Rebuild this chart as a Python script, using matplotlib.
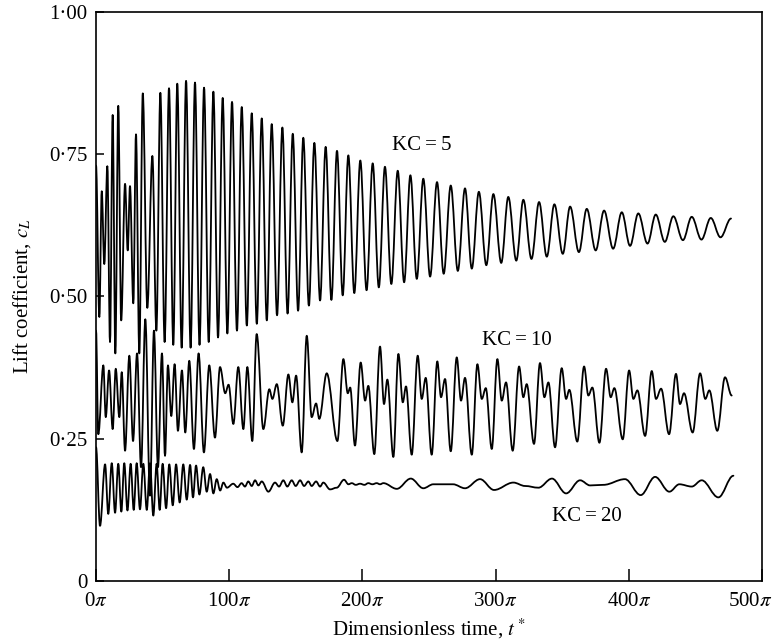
import matplotlib
matplotlib.use('Agg')
import matplotlib.pyplot as plt
from matplotlib.path import Path
from matplotlib.patches import PathPatch
from matplotlib.transforms import ScaledTranslation

plt.rcParams['font.family'] = ['Liberation Serif', 'DejaVu Serif']
plt.rcParams['mathtext.fontset'] = 'stix'

# extrema (peaks / troughs), time in units of pi
kc5_t = [0, 2.5, 4.3, 6.2, 8.5, 10.5, 12.5, 14.5, 16.7, 18.9, 21.8, 23.8, 25.5, 28.0, 30.0, 32.5,
         35.1, 38.5, 42.3, 45.3,
         48.3, 51.5, 54.8, 58.0, 61.0, 64.3, 67.6, 71.0, 74.3, 77.7, 81.1, 84.6, 88.1, 91.6, 95.1, 98.6,
         102.1, 105.8, 109.4, 113.2, 116.9, 120.7, 124.4, 128.2, 131.9, 135.9, 139.9, 143.8, 147.7, 151.7,
         155.6, 159.8, 163.9, 168.2, 172.4, 176.7, 180.9, 185.2, 189.4, 193.9, 198.4, 203.1, 207.7, 212.3,
         216.9, 221.7, 226.5, 231.3, 236.0, 240.8, 245.7, 250.8, 256.0, 261.0, 266.3, 271.6, 277.0, 282.1,
         287.4, 293.0, 298.3, 304.2, 309.5, 315.5, 320.8, 326.9, 332.6, 338.4, 344.1, 350.4, 355.9, 362.5,
         368.4, 375.1, 381.4, 388.2, 394.7, 400.9, 407.1, 414.0, 420.2, 427.0, 433.4, 440.6, 447.2, 454.5,
         461.5, 468.8, 476.7]
kc5_y = [0.73, 0.464, 0.685, 0.557, 0.729, 0.42, 0.819, 0.40, 0.835, 0.458, 0.698, 0.581, 0.694, 0.488,
         0.785, 0.40, 0.857, 0.48, 0.747, 0.44,
         0.858, 0.42, 0.866, 0.415, 0.874, 0.41, 0.879, 0.41, 0.876, 0.415, 0.867, 0.42, 0.860, 0.428,
         0.849, 0.435,
         0.842, 0.440, 0.833, 0.449, 0.822, 0.452, 0.813, 0.458, 0.803, 0.467, 0.797, 0.470, 0.786, 0.475,
         0.779, 0.484, 0.770, 0.493, 0.763, 0.494, 0.756, 0.502, 0.748, 0.506, 0.739, 0.511, 0.734, 0.516,
         0.728, 0.522, 0.721, 0.525, 0.713, 0.531, 0.707, 0.535, 0.701, 0.540, 0.695, 0.545, 0.690, 0.549,
         0.684, 0.555, 0.680, 0.559, 0.675, 0.563, 0.670, 0.566, 0.666, 0.570, 0.662, 0.575, 0.658, 0.578,
         0.654, 0.581, 0.651, 0.584, 0.648, 0.589, 0.646, 0.593, 0.644, 0.596, 0.641, 0.599, 0.640, 0.600,
         0.638, 0.604, 0.637]

kc10_t = [0, 1.7, 5.5, 7.3, 9.8, 12.5, 14.8, 17.5, 19.3, 21.8, 25.0, 27.8, 30.8, 33.8, 37.0, 40.5,
          43.5, 46.5, 49.5, 51.8, 54.0, 56.5, 59.0, 61.5, 64.5, 67.0, 70.0, 73.5, 77.0, 81.0, 85.0, 89.3,
          93.1, 97.0, 99.5, 103.1,
          106.8, 110.6, 113.6, 117.3, 120.6, 125.6, 130.1, 132.4, 135.7, 140.2, 144.4, 147.4, 150.2, 154.4,
          158.2, 161.9, 165.2, 167.6, 173.2, 181.2, 185.7, 189.0, 190.8, 194.4, 198.7, 202.0, 204.4, 208.9,
          213.2, 216.2, 218.7, 223.2, 227.0, 230.3, 232.7, 237.0, 241.5, 244.5, 247.5, 252.0, 256.2, 259.0,
          262.0, 266.3, 270.8, 274.0, 277.0, 282.1, 286.3, 289.6, 292.6, 297.1, 301.3, 304.6, 307.8, 312.8,
          317.6, 320.8, 323.3, 328.8, 333.3, 336.6, 339.6, 344.6, 349.6, 352.9, 355.3, 361.3, 366.4, 369.6,
          372.6, 377.9, 382.9, 386.4, 389.1, 395.4, 400.2, 403.4, 406.4, 412.2, 417.2, 420.4, 424.2, 430.2,
          435.4, 438.4, 441.4, 447.9, 453.5, 457.4, 460.4, 466.4, 472.2, 477.2]
kc10_y = [0.44, 0.258, 0.379, 0.288, 0.370, 0.267, 0.373, 0.288, 0.367, 0.229, 0.396, 0.246, 0.40, 0.20,
          0.46, 0.15, 0.44, 0.20, 0.40, 0.22, 0.379, 0.29, 0.381, 0.264, 0.37, 0.261, 0.387, 0.232, 0.40,
          0.226, 0.379, 0.252, 0.376, 0.33, 0.345, 0.276,
          0.376, 0.267, 0.376, 0.246, 0.434, 0.267, 0.337, 0.320, 0.346, 0.273, 0.363, 0.314, 0.361, 0.226,
          0.431, 0.288, 0.312, 0.285, 0.365, 0.246, 0.390, 0.330, 0.340, 0.238, 0.384, 0.317, 0.343, 0.223,
          0.412, 0.311, 0.354, 0.218, 0.399, 0.314, 0.342, 0.222, 0.396, 0.320, 0.357, 0.222, 0.386, 0.323,
          0.355, 0.228, 0.393, 0.317, 0.357, 0.222, 0.381, 0.320, 0.339, 0.232, 0.390, 0.317, 0.349, 0.229,
          0.377, 0.323, 0.346, 0.241, 0.383, 0.323, 0.349, 0.235, 0.374, 0.320, 0.336, 0.245, 0.377, 0.326,
          0.340, 0.243, 0.373, 0.323, 0.339, 0.249, 0.370, 0.320, 0.335, 0.255, 0.369, 0.320, 0.338, 0.258,
          0.364, 0.311, 0.330, 0.261, 0.365, 0.320, 0.335, 0.264, 0.358, 0.326]

kc20_t = [0, 3.0, 6.8, 9.2, 11.8, 14.3, 16.7, 19.0, 21.2, 23.6, 26.0, 28.3, 30.5, 33.0, 35.5, 38.1,
          40.5, 43.0, 45.5, 47.8, 50.0, 52.6, 55.0, 57.6, 60.1, 62.8, 65.5, 68.1, 70.6, 72.8, 75.1, 77.6,
          80.5, 83.1, 85.6, 88.1, 90.6, 93.2, 95.6, 98.3, 103.0, 106.2, 109.3, 111.8, 114.3, 116.9, 119.4,
          121.9, 124.4, 129.4, 134.4, 137.4, 140.6, 143.6, 146.9, 149.9, 153.2, 156.2, 159.4, 161.9, 165.2,
          168.2, 170.6, 175.7, 180.7, 186.2, 189.5, 192.0, 195.0, 198.2, 201.5, 204.4, 207.5, 210.7, 213.2,
          215.7, 225.8, 236.3, 245.7, 253.2, 268.0, 277.0, 288.3, 298.8, 313.3, 322.1, 332.1, 342.3, 352.9,
          363.4, 370.9, 380.9, 397.1, 408.9, 419.7, 430.4, 437.9, 447.2, 454.7, 467.2, 478.5]
kc20_y = [0.235, 0.097, 0.205, 0.118, 0.207, 0.120, 0.206, 0.122, 0.207, 0.124, 0.206, 0.125, 0.207,
          0.126, 0.206, 0.125, 0.207, 0.115, 0.206, 0.125, 0.206, 0.128, 0.205, 0.133, 0.205, 0.138, 0.205,
          0.143, 0.204, 0.147, 0.203, 0.152, 0.200, 0.157, 0.188, 0.154, 0.179, 0.159, 0.173, 0.164, 0.171,
          0.165, 0.172, 0.166, 0.175, 0.167, 0.177, 0.168, 0.175, 0.157, 0.173, 0.166, 0.177, 0.166, 0.177,
          0.167, 0.177, 0.167, 0.175, 0.167, 0.175, 0.166, 0.173, 0.161, 0.164, 0.178, 0.170, 0.172, 0.169,
          0.171, 0.169, 0.172, 0.170, 0.172, 0.170, 0.172, 0.162, 0.180, 0.163, 0.170, 0.170, 0.163, 0.179,
          0.160, 0.173, 0.167, 0.164, 0.180, 0.154, 0.177, 0.168, 0.169, 0.179, 0.151, 0.183, 0.157, 0.170,
          0.166, 0.177, 0.147, 0.185]

labels = ['KC\u2009=\u20095', 'KC\u2009=\u200910', 'KC\u2009=\u200920']
label_pos = [(222, 0.766), (290, 0.422), (342, 0.114)]

xticks = [0, 100, 200, 300, 400, 500]
yticks = [0, 0.25, 0.50, 0.75, 1.00]
ytick_labels = ['0', '0\u00b725', '0\u00b750', '0\u00b775', '1\u00b700']


def smooth(t, y, k=0.36):
    # cubic segments with flat tangents at each extremum
    verts = [(t[0], y[0])]
    codes = [Path.MOVETO]
    for i in range(1, len(t)):
        d = t[i] - t[i - 1]
        verts += [(t[i - 1] + k * d, y[i - 1]), (t[i] - k * d, y[i]), (t[i], y[i])]
        codes += [Path.CURVE4] * 3
    return Path(verts, codes)


fig = plt.figure(figsize=(7.75, 6.44), dpi=100)
ax = fig.add_axes([0.1239, 0.0978, 0.8594, 0.8836])

for t, y in [(kc5_t, kc5_y), (kc10_t, kc10_y), (kc20_t, kc20_y)]:
    ax.add_patch(PathPatch(smooth(t, y), facecolor='none', edgecolor='black', lw=1.3,
                           joinstyle='round', capstyle='round'))

for s, (x, y) in zip(labels, label_pos):
    ax.text(x, y, s, fontsize=15, va='center', ha='left')

ax.set_xlim(0, 500)
ax.set_ylim(0, 1)
ax.set_xticks(xticks)
ax.set_xticklabels([f'{v}$\\pi$' for v in xticks])
ax.set_yticks(yticks)
ax.set_yticklabels(ytick_labels)
ax.tick_params(direction='in', labelsize=15, top=False, right=False, width=1.1)
ax.tick_params(axis='x', length=9, pad=8)
ax.tick_params(axis='y', length=6, pad=6)
for sp in ax.spines.values():
    sp.set_linewidth(1.2)

# keep the last x label inside the canvas
last = ax.get_xticklabels()[-1]
last.set_transform(last.get_transform() + ScaledTranslation(-12 / 100, 0, fig.dpi_scale_trans))

ax.set_xlabel('Dimensionless time, $t^*$', fontsize=15, labelpad=4)
ax.set_ylabel('Lift coefficient, $c_L$', fontsize=15, labelpad=12)

fig.savefig('out.png', dpi=100)
